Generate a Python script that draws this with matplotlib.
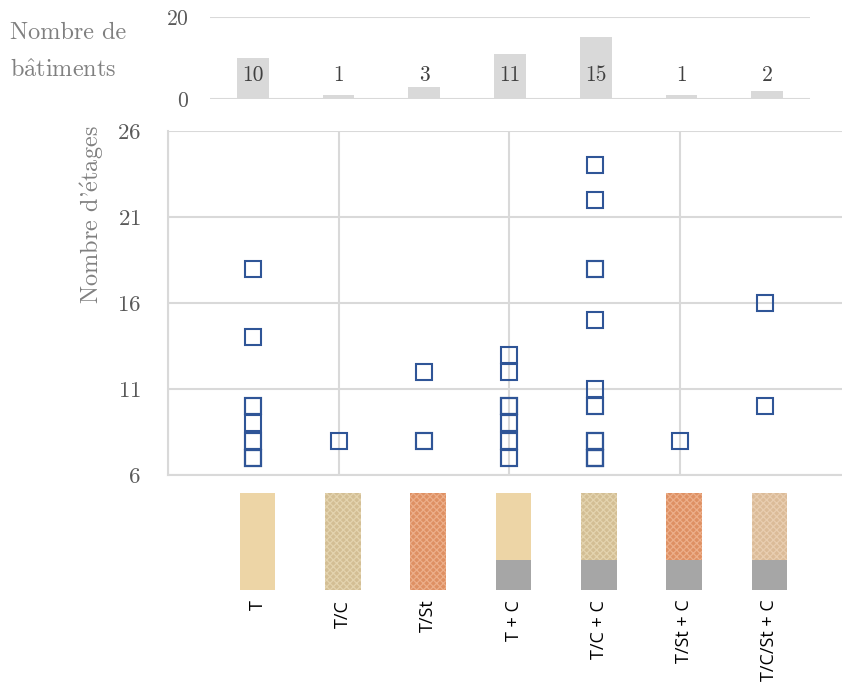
import matplotlib
matplotlib.use("Agg")
import matplotlib.pyplot as plt
from matplotlib.patches import Rectangle

plt.rcParams['font.family'] = ['cmr10', 'DejaVu Serif']
plt.rcParams['axes.formatter.use_mathtext'] = True
plt.rcParams['mathtext.fontset'] = 'cm'
plt.rcParams['hatch.linewidth'] = 0.9

# Building typologies
categories = ["T", "T/C", "T/St", "T + C", "T/C + C", "T/St + C", "T/C/St + C"]
building_counts = [10, 1, 3, 11, 15, 1, 2]

# Number of storeys per building, grouped by typology
storeys = {
    "T": [18, 14, 10, 10, 9, 8, 8, 7, 7, 7],
    "T/C": [8],
    "T/St": [12, 8, 8],
    "T + C": [13, 12, 10, 10, 10, 9, 9, 8, 8, 7, 7],
    "T/C + C": [24, 22, 18, 18, 15, 11, 10, 10, 8, 8, 8, 7, 7, 7, 7],
    "T/St + C": [8],
    "T/C/St + C": [16, 10],
}
storey_ticks = [6, 11, 16, 21, 26]
count_ticks = [0, 20]

# Material swatches: (fill colour, texture colour, has concrete base)
swatches = {
    "T": ("#EDD5A6", None, False),
    "T/C": ("#D3BE94", "#E3D3AE", False),
    "T/St": ("#DE9063", "#ECAE89", False),
    "T + C": ("#EDD5A6", None, True),
    "T/C + C": ("#D3BE94", "#E3D3AE", True),
    "T/St + C": ("#DE9063", "#ECAE89", True),
    "T/C/St + C": ("#DBBB98", "#E8CDB0", True),
}
concrete = "#A6A6A6"

grid_c = "#D9D9D9"
tick_c = "#595959"
label_c = "#808080"
blue = "#2F5597"

W, H = 842, 686
fig = plt.figure(figsize=(W / 100, H / 100), dpi=100)


def frac(x0, y0, x1, y1):
    return [x0 / W, 1 - y1 / H, (x1 - x0) / W, (y1 - y0) / H]


xpos = list(range(1, len(categories) + 1))

# ---- main scatter: storeys per building ----
ax = fig.add_axes(frac(168, 131, 842, 475))
for x, cat in zip(xpos, categories):
    vals = storeys[cat]
    ax.plot([x] * len(vals), vals, linestyle="none", marker="s", ms=12,
            mfc="none", mec=blue, mew=1.5, zorder=3)
ax.set_xlim(0, 7.9)
ax.set_ylim(6, 26)
ax.set_yticks(storey_ticks)
ax.set_xticks([0, 2, 4, 6])
ax.tick_params(axis="x", length=0, labelbottom=False)
ax.tick_params(axis="y", length=0, labelsize=16.5, labelcolor=tick_c, pad=19.5)
ax.grid(True, color=grid_c, lw=1.5, zorder=0)
for s in ["top", "right"]:
    ax.spines[s].set_visible(False)
for s in ["left", "bottom"]:
    ax.spines[s].set_color(grid_c)
    ax.spines[s].set_linewidth(1.5)
fig.text(92 / W, 1 - 215 / H, r"Nombre d'$\acute{\mathrm{e}}$tages", rotation=90,
         ha="center", va="center", fontsize=17.5, color=label_c)

# ---- top bars: number of buildings ----
axt = fig.add_axes(frac(210, 17, 810, 99))
axt.bar(xpos, building_counts, width=0.37, color="#D9D9D9", zorder=2)
for x, n in zip(xpos, building_counts):
    axt.text(x, 5.9, str(n), ha="center", va="center", fontsize=15.5,
             color="#404040", zorder=3)
axt.set_xlim(0.5, 7.5)
axt.set_ylim(0, 20)
axt.set_yticks(count_ticks)
axt.set_xticks([])
axt.tick_params(axis="y", length=0, labelsize=15.5, labelcolor=tick_c, pad=15)
axt.grid(True, axis="y", color=grid_c, lw=1.5, zorder=0)
for s in axt.spines.values():
    s.set_visible(False)
fig.text(10 / W, 1 - 33 / H, "Nombre de", ha="left", va="center",
         fontsize=17.5, color=label_c)
fig.text(10 / W, 1 - 70 / H, r"b$\hat{\mathrm{a}}$timents", ha="left",
         va="center", fontsize=17.5, color=label_c)

# ---- material swatches and typology labels ----
axb = fig.add_axes(frac(168, 493, 842, 590))
axb.set_xlim(0, 7.9)
axb.set_ylim(0, 1)
axb.axis("off")
bw = 0.42
for x, cat in zip(xpos, categories):
    fill, tex, base = swatches[cat]
    y0 = 0.31 if base else 0.0
    axb.add_patch(Rectangle((x + 0.05 - bw / 2, y0), bw, 1 - y0, facecolor=fill,
                            edgecolor=tex if tex else fill,
                            hatch="xxxxx" if tex else None, lw=0))
    if base:
        axb.add_patch(Rectangle((x + 0.05 - bw / 2, 0), bw, y0,
                                facecolor=concrete, lw=0))
    axb.text(x + 0.05, -0.1, cat, rotation=90, ha="center", va="top",
             fontsize=13, color="black", family=["Open Sans", "DejaVu Sans"])

fig.savefig("out.png", dpi=100)
